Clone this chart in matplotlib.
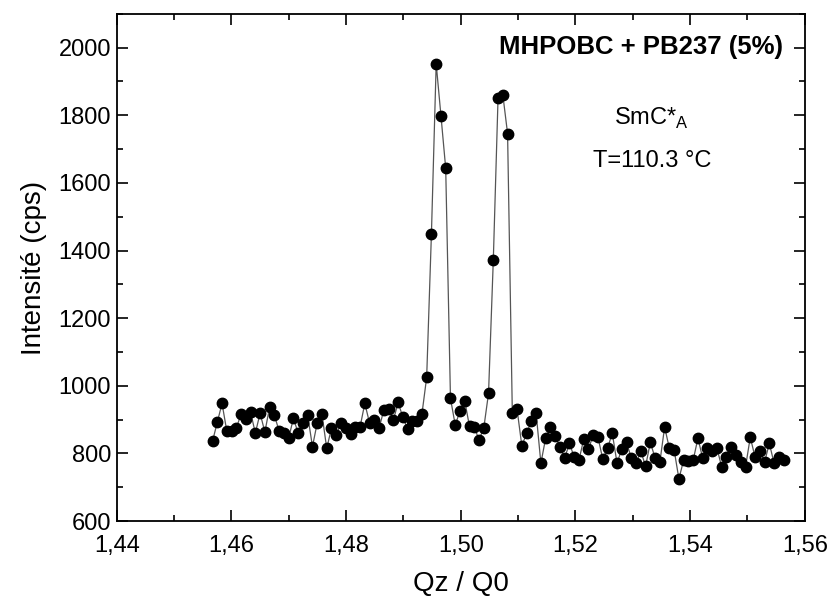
import matplotlib
matplotlib.use("Agg")
import matplotlib.pyplot as plt
from matplotlib.ticker import MultipleLocator, FuncFormatter
import numpy as np

plt.rcParams['font.family'] = ['Liberation Sans', 'DejaVu Sans']

# scan range (Qz/Q0), points are evenly spaced
q_start = 1.4567
q_end = 1.5563

intensite = [
    836, 892, 948, 866, 866, 875, 916, 901, 922, 860,
    919, 863, 937, 913, 866, 860, 845, 904, 860, 890,
    913, 820, 890, 916, 815, 875, 854, 890, 875, 857,
    878, 878, 948, 890, 898, 875, 928, 930, 898, 951,
    907, 872, 895, 895, 916, 1025, 1450, 1952, 1799, 1643,
    963, 884, 925, 955, 880, 878, 840, 875, 978, 1371,
    1852, 1861, 1746, 919, 930, 822, 860, 895, 919, 771,
    845, 878, 851, 819, 786, 830, 789, 780, 842, 813,
    854, 848, 783, 815, 860, 771, 813, 833, 786, 771,
    807, 762, 833, 786, 774, 878, 815, 810, 725, 780,
    777, 780, 845, 786, 815, 807, 815, 760, 789, 819,
    795, 774, 760, 848, 789, 807, 774, 830, 771, 789,
    780,
]
qz = np.linspace(q_start, q_end, len(intensite))

fig = plt.figure(figsize=(8.34, 6.01), dpi=100)
ax = fig.add_axes([0.140, 0.133, 0.825, 0.844])

ax.plot(qz, intensite, '-', color='#555555', lw=0.9)
ax.plot(qz, intensite, 'o', color='black', ms=7.5, ls='none')

ax.set_xlim(1.44, 1.56)
ax.set_ylim(600, 2100)
ax.xaxis.set_major_locator(MultipleLocator(0.02))
ax.xaxis.set_minor_locator(MultipleLocator(0.01))
ax.yaxis.set_major_locator(MultipleLocator(200))
ax.yaxis.set_minor_locator(MultipleLocator(100))
ax.xaxis.set_major_formatter(FuncFormatter(lambda v, p: ('%.2f' % v).replace('.', ',')))
ax.yaxis.set_major_formatter(FuncFormatter(lambda v, p: '' if v > 2050 else '%d' % v))

ax.tick_params(which='both', direction='in', top=True, right=True, width=1.2, labelsize=17)
ax.tick_params(which='major', length=8)
ax.tick_params(which='minor', length=4)
ax.tick_params(axis='x', which='major', pad=10)
ax.tick_params(axis='y', which='major', pad=4)
for s in ax.spines.values():
    s.set_linewidth(1.3)

ax.set_xlabel('Qz / Q0', fontsize=20, labelpad=10)
ax.set_ylabel('Intensité (cps)', fontsize=20, labelpad=8)

ax.text(0.968, 0.935, 'MHPOBC + PB237 (5%)', transform=ax.transAxes,
        ha='right', va='center', fontsize=18.5, fontweight='bold')
ax.text(1.5333, 1790, 'SmC*$_\\mathregular{A}$', ha='center', va='center', fontsize=17)
ax.text(1.5333, 1666, 'T=110.3 °C', ha='center', va='center', fontsize=17)

fig.savefig('out.png', dpi=100)
